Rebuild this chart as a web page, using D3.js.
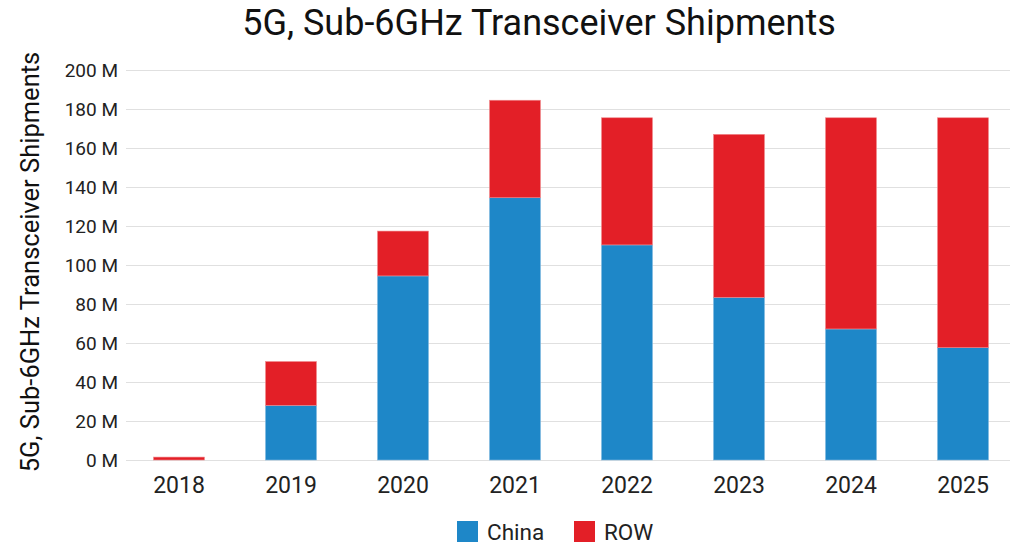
<!DOCTYPE html>
<html>
<head>
<meta charset="utf-8">
<script src="https://cdn.jsdelivr.net/npm/d3@7"></script>
<style>
  body { margin: 0; background: #fff; font-family: Roboto, "Noto Sans", sans-serif; }
  .grid-line { stroke: #e0e0e0; stroke-width: 1; }
  .tick-label { fill: #222; font-size: 19px; }
</style>
</head>
<body>
<div id="chart"></div>
<script>
var years = ["2018", "2019", "2020", "2021", "2022", "2023", "2024", "2025"];
var china = [0, 28, 94.4, 134.5, 110.3, 83.4, 67.2, 57.6];
var row = [1.5, 22.5, 23, 50, 65.2, 83.6, 108.3, 117.9];
var yTicks = [0, 20, 40, 60, 80, 100, 120, 140, 160, 180, 200];
var seriesNames = ["China", "ROW"];
var colours = ["#1e87c8", "#e31f27"];

var width = 1013, height = 546;
var margin = { top: 70, right: 0, bottom: 86, left: 123 };
var innerW = 896, innerH = height - margin.top - margin.bottom;

var svg = d3.select("#chart").append("svg")
    .attr("width", width)
    .attr("height", height);

var g = svg.append("g")
    .attr("transform", "translate(" + margin.left + "," + margin.top + ")");

var x = d3.scaleBand()
    .domain(years)
    .range([0, innerW])
    .paddingInner(0.545)
    .paddingOuter(0.2725);

var y = d3.scaleLinear()
    .domain([0, 200])
    .range([innerH, 0]);

// gridlines
g.append("g").selectAll("line")
    .data(yTicks)
    .enter().append("line")
    .attr("class", "grid-line")
    .attr("x1", 3)
    .attr("x2", width - margin.left - 3)
    .attr("y1", function(d) { return Math.round(y(d)) + 0.5; })
    .attr("y2", function(d) { return Math.round(y(d)) + 0.5; });

// y axis labels
var yAxis = d3.axisLeft(y)
    .tickValues(yTicks)
    .tickSize(0)
    .tickPadding(5)
    .tickFormat(function(d) { return d + " M"; });

var yAxisElem = g.append("g").call(yAxis);
yAxisElem.select(".domain").remove();
yAxisElem.selectAll("text")
    .attr("class", "tick-label")
    .style("font-family", "Roboto, sans-serif");

// x axis labels
var xAxis = d3.axisBottom(x).tickSize(0).tickPadding(17);
var xAxisElem = g.append("g")
    .attr("transform", "translate(0," + innerH + ")")
    .call(xAxis);
xAxisElem.select(".domain").remove();
xAxisElem.selectAll("text")
    .style("font-family", "Roboto, sans-serif")
    .style("font-size", "23px")
    .style("fill", "#222");

// stacked bars
var tableData = years.map(function(yr, i) {
    return { year: yr, China: china[i], ROW: row[i] };
});
var stacked = d3.stack().keys(seriesNames)(tableData);

g.append("g").selectAll("g")
    .data(stacked)
    .enter().append("g")
    .attr("fill", function(d, i) { return colours[i]; })
    .attr("stroke", function(d, i) { return i === 0 ? "#7fb8e0" : "#f08a8e"; })
    .attr("stroke-width", 0.6)
    .selectAll("rect")
    .data(function(d) { return d.filter(function(p) { return p[1] - p[0] > 0; }); })
    .enter().append("rect")
    .attr("x", function(d) { return x(d.data.year); })
    .attr("width", x.bandwidth())
    .attr("y", function(d) { return y(d[1]); })
    .attr("height", function(d) { return y(d[0]) - y(d[1]); });

// title
svg.append("text")
    .attr("x", 539)
    .attr("y", 35)
    .attr("text-anchor", "middle")
    .style("font-size", "36px")
    .style("fill", "#111")
    .text("5G, Sub-6GHz Transceiver Shipments");

// y title
svg.append("text")
    .attr("text-anchor", "middle")
    .attr("transform", "translate(39,262) rotate(-90)")
    .style("font-size", "25.5px")
    .style("fill", "#111")
    .text("5G, Sub-6GHz Transceiver Shipments");

// legend
var legendX = [457, 574];
var legend = svg.append("g").selectAll("g")
    .data(seriesNames)
    .enter().append("g")
    .attr("transform", function(d, i) { return "translate(" + legendX[i] + ",521)"; });

legend.append("rect")
    .attr("width", 21)
    .attr("height", 21)
    .attr("fill", function(d, i) { return colours[i]; });

legend.append("text")
    .attr("x", 30)
    .attr("y", 18.5)
    .style("font-size", "22.5px")
    .style("fill", "#222")
    .text(function(d) { return d; });
</script>
</body>
</html>
